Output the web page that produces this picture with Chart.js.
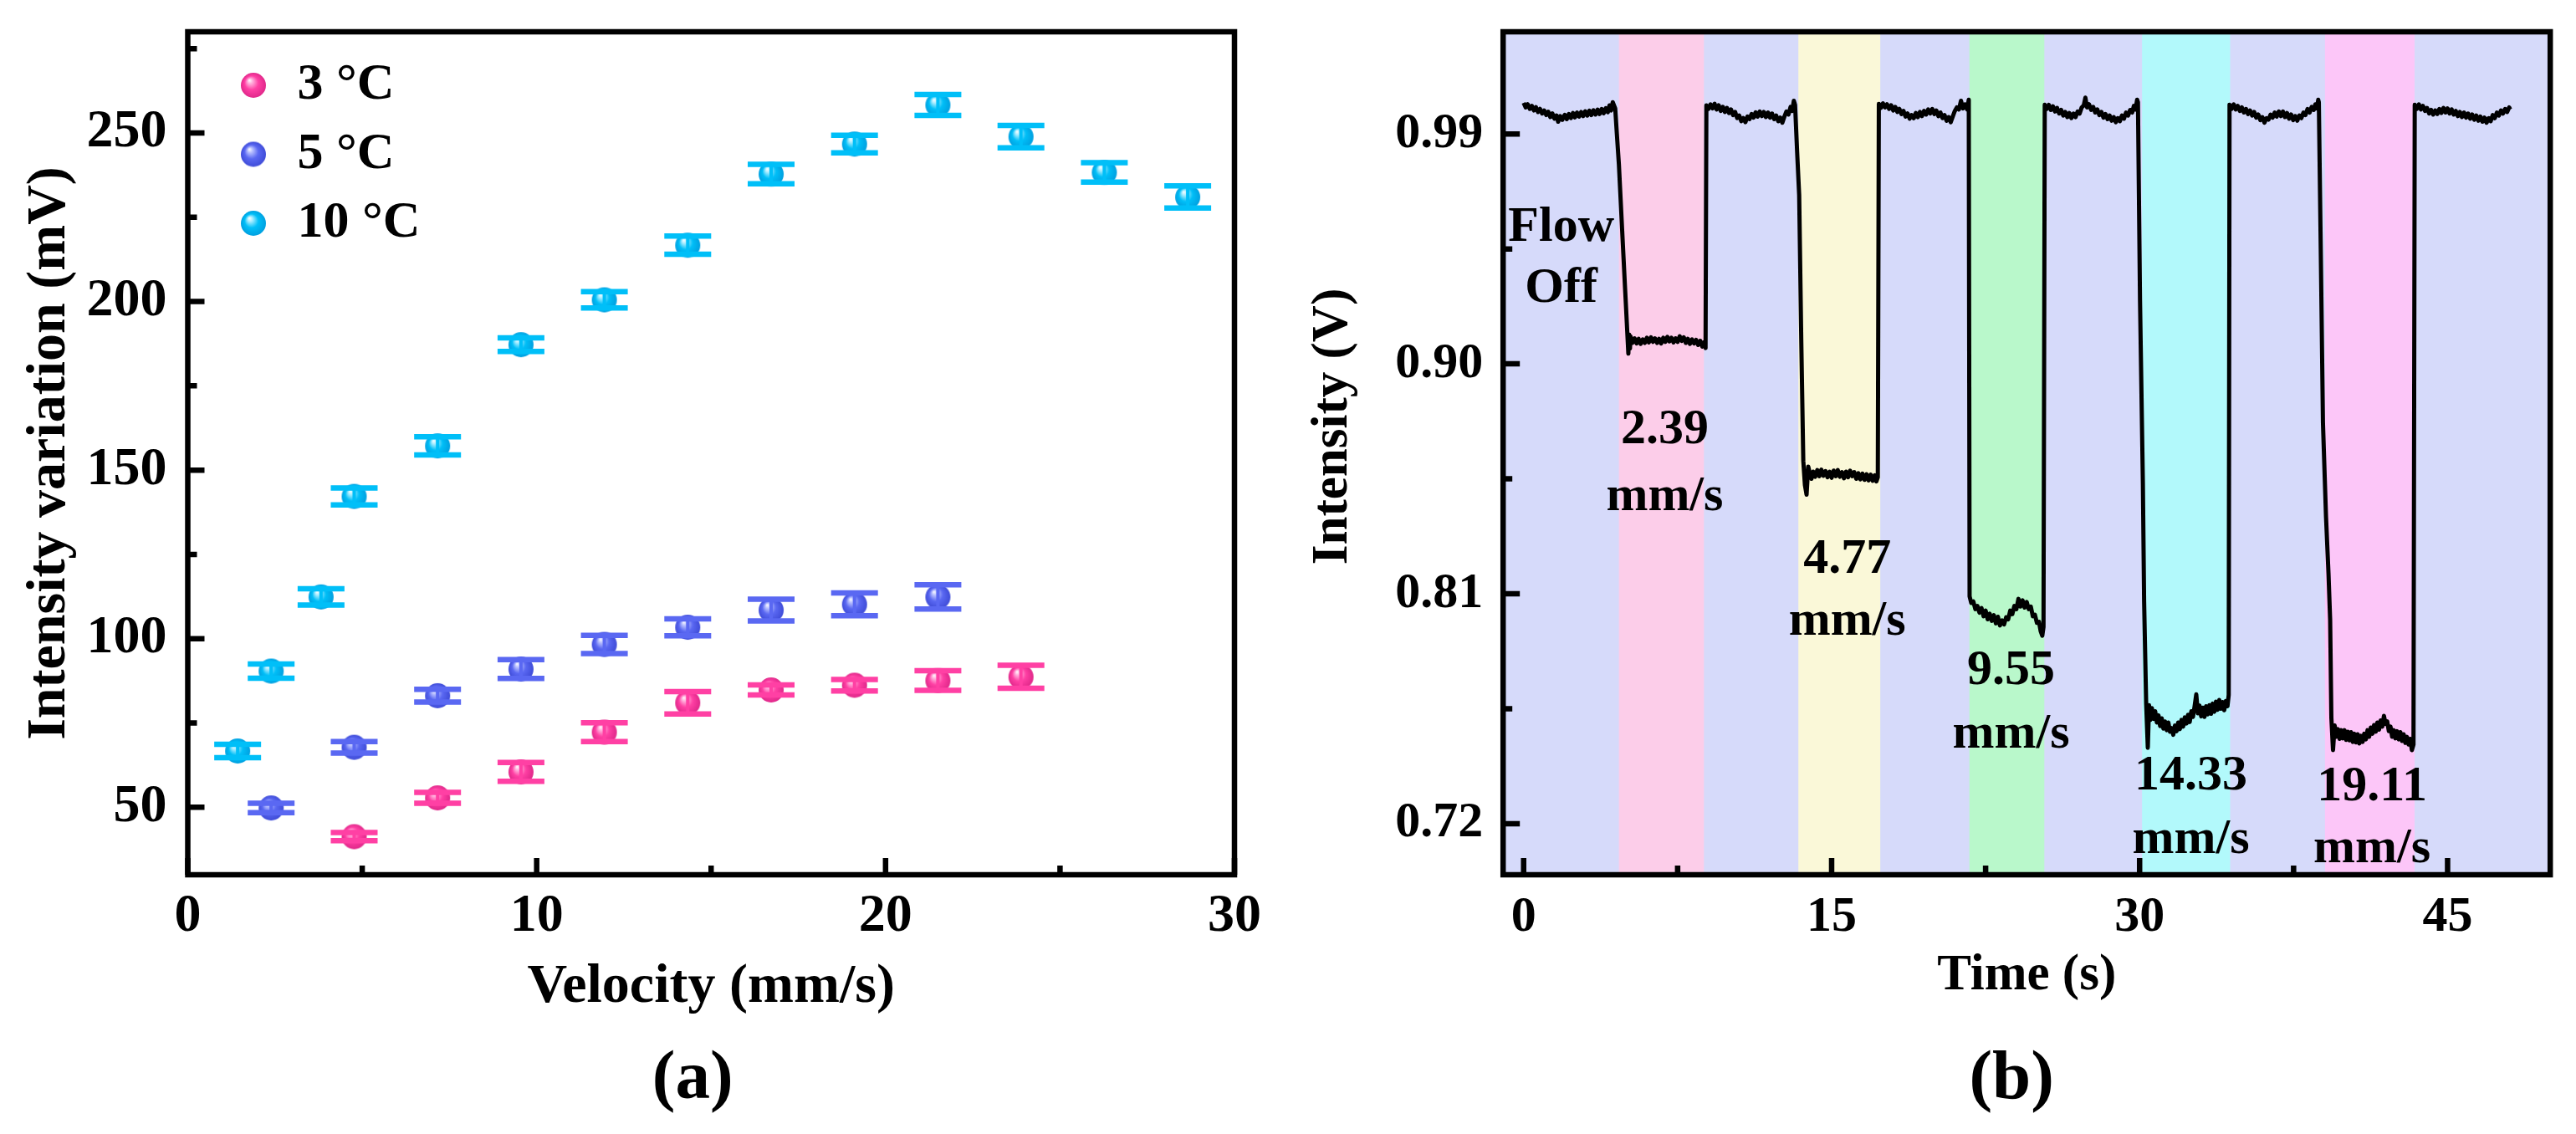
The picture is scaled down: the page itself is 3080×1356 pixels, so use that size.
<!DOCTYPE html>
<html>
<head>
<meta charset="utf-8">
<script src="https://cdn.jsdelivr.net/npm/chart.js"></script>
<style>
  html, body { margin: 0; padding: 0; background: #fff; }
  #wrap { position: relative; width: 3080px; height: 1356px; overflow: hidden; }
  .panel { position: absolute; top: 0; width: 1540px; height: 1356px; }
</style>
</head>
<body>
<div id="wrap">
  <div class="panel" style="left:0"><canvas id="velocityChart" width="1540" height="1356"></canvas></div>
  <div class="panel" style="left:1540px"><canvas id="timeChart" width="1540" height="1356"></canvas></div>
</div>
<script>
// ---- panel (a): intensity variation vs velocity ----
const velocity3 = [4.77, 7.16, 9.55, 11.94, 14.33, 16.72, 19.11, 21.50, 23.88];
const signal3 = [41.3, 52.8, 60.5, 72.3, 81.0, 84.8, 86.2, 87.6, 88.7];
const error3 = [1.2, 1.6, 2.8, 2.8, 3.3, 1.5, 1.7, 2.9, 3.4];

const velocity5 = [2.39, 4.77, 7.16, 9.55, 11.94, 14.33, 16.72, 19.11, 21.50];
const signal5 = [49.8, 67.8, 83.1, 91.0, 98.3, 103.4, 108.5, 110.2, 112.4];
const error5 = [1.4, 1.7, 1.9, 2.8, 2.7, 2.5, 3.2, 3.4, 3.6];

const velocity10 = [1.43, 2.39, 3.82, 4.77, 7.16, 9.55, 11.94, 14.33, 16.72, 19.11, 21.50, 23.88, 26.27, 28.66];
const signal10 = [66.7, 90.4, 112.4, 142.2, 157.2, 187.2, 200.5, 216.7, 237.8, 246.7, 258.3, 248.9, 238.3, 231.0];
const error10 = [2.0, 2.1, 2.4, 2.5, 2.7, 2.0, 2.4, 2.7, 2.9, 2.6, 3.1, 3.3, 2.9, 3.3];

const velocityTicks = [0, 10, 20, 30];
const velocityMinor = [5, 15, 25];
const signalTicks = [50, 100, 150, 200, 250];
const signalMinor = [75, 125, 175, 225, 275];

// ---- panel (b): intensity vs time ----
const timeTicks = [0, 15, 30, 45];
const timeMinor = [7.5, 22.5, 37.5];
const voltTicks = [0.72, 0.81, 0.90, 0.99];
const voltMinor = [0.765, 0.855, 0.945];

const flowStart = [4.64, 13.38, 21.71, 30.12, 39.03];
const flowEnd = [8.78, 17.37, 25.36, 34.41, 43.39];
const flowColors = ["#fccde9", "#faf8d8", "#b9f8cb", "#b2f9fb", "#fcc6f8"];

const flowNotes = [
  { lines: ["Flow", "Off"], t: 1.83, v: [0.9483, 0.9244] },
  { lines: ["2.39", "mm/s"], t: 6.87, v: [0.869, 0.8426] },
  { lines: ["4.77", "mm/s"], t: 15.76, v: [0.8183, 0.7938] },
  { lines: ["9.55", "mm/s"], t: 23.74, v: [0.7746, 0.7496] },
  { lines: ["14.33", "mm/s"], t: 32.5, v: [0.7334, 0.7084] },
  { lines: ["19.11", "mm/s"], t: 41.32, v: [0.729, 0.7048] },
];

// [time (s), intensity (V)]
const trace = [
  // flow off
  [0.00, 1.0022], [0.10, 1.0004], [0.20, 1.0016], [0.30, 0.9998], [0.40, 1.0010], [0.50, 0.9992],
  [0.60, 1.0005], [0.70, 0.9986], [0.80, 0.9998], [0.90, 0.9980], [1.00, 0.9992], [1.10, 0.9974],
  [1.20, 0.9987], [1.30, 0.9966], [1.40, 0.9980], [1.50, 0.9960], [1.60, 0.9972], [1.68, 0.9948],
  [1.78, 0.9970], [1.88, 0.9955], [2.00, 0.9975], [2.10, 0.9958], [2.20, 0.9978], [2.30, 0.9962],
  [2.40, 0.9982], [2.50, 0.9965], [2.60, 0.9984], [2.70, 0.9968], [2.80, 0.9986], [2.90, 0.9970],
  [3.00, 0.9989], [3.10, 0.9972], [3.20, 0.9991], [3.30, 0.9974], [3.40, 0.9993], [3.50, 0.9976],
  [3.60, 0.9995], [3.70, 0.9978], [3.80, 0.9998], [3.90, 0.9981], [4.00, 1.0001], [4.10, 0.9985],
  [4.18, 1.0012], [4.26, 0.9992], [4.34, 1.0024], [4.42, 1.0008],
  // 2.39 mm/s
  [4.46, 1.0000], [4.54, 0.9900], [4.64, 0.9780], [4.80, 0.9520], [4.95, 0.9280], [5.05, 0.9120],
  [5.10, 0.9040], [5.14, 0.9115], [5.18, 0.9060],
  [5.20, 0.9108], [5.30, 0.9082], [5.40, 0.9100], [5.50, 0.9080], [5.60, 0.9098], [5.70, 0.9078],
  [5.80, 0.9096], [5.90, 0.9082], [6.00, 0.9102], [6.10, 0.9084], [6.20, 0.9104], [6.30, 0.9086],
  [6.40, 0.9100], [6.50, 0.9082], [6.60, 0.9098], [6.70, 0.9080], [6.80, 0.9102], [6.90, 0.9086],
  [7.00, 0.9106], [7.10, 0.9088], [7.20, 0.9102], [7.30, 0.9084], [7.40, 0.9100], [7.50, 0.9086],
  [7.60, 0.9108], [7.70, 0.9090], [7.80, 0.9104], [7.90, 0.9082], [8.00, 0.9098], [8.10, 0.9078],
  [8.20, 0.9096], [8.30, 0.9080], [8.40, 0.9094], [8.50, 0.9074], [8.60, 0.9090], [8.70, 0.9068],
  [8.78, 0.9084], [8.86, 0.9062],
  // flow off
  [8.90, 1.0012], [9.00, 0.9998], [9.10, 1.0016], [9.20, 1.0000], [9.30, 1.0018], [9.40, 0.9996],
  [9.50, 1.0012], [9.60, 0.9990], [9.70, 1.0006], [9.80, 0.9986], [9.90, 1.0002], [10.00, 0.9982],
  [10.10, 0.9996], [10.20, 0.9974], [10.30, 0.9986], [10.40, 0.9962], [10.50, 0.9972], [10.60, 0.9950],
  [10.70, 0.9962], [10.80, 0.9946], [10.90, 0.9968], [11.00, 0.9958], [11.10, 0.9978], [11.20, 0.9964],
  [11.30, 0.9985], [11.40, 0.9968], [11.50, 0.9988], [11.60, 0.9970], [11.70, 0.9986], [11.80, 0.9966],
  [11.90, 0.9984], [12.00, 0.9964], [12.10, 0.9980], [12.20, 0.9958], [12.30, 0.9972], [12.40, 0.9950],
  [12.50, 0.9964], [12.60, 0.9944], [12.70, 0.9968], [12.80, 0.9988], [12.90, 0.9976], [13.00, 1.0006],
  [13.08, 0.9990], [13.16, 1.0030], [13.22, 1.0014],
  // 4.77 mm/s
  [13.32, 0.9830], [13.42, 0.9660], [13.52, 0.9100], [13.62, 0.8620], [13.70, 0.8525], [13.78, 0.8488],
  [13.86, 0.8598], [13.94, 0.8572],
  [14.02, 0.8550], [14.10, 0.8578], [14.20, 0.8558], [14.30, 0.8584], [14.40, 0.8560], [14.50, 0.8586],
  [14.60, 0.8562], [14.70, 0.8580], [14.80, 0.8556], [14.90, 0.8578], [15.00, 0.8554], [15.10, 0.8582],
  [15.20, 0.8560], [15.30, 0.8584], [15.40, 0.8558], [15.50, 0.8576], [15.60, 0.8552], [15.70, 0.8578],
  [15.80, 0.8556], [15.90, 0.8582], [16.00, 0.8560], [16.10, 0.8576], [16.20, 0.8550], [16.30, 0.8572],
  [16.40, 0.8548], [16.50, 0.8570], [16.60, 0.8546], [16.70, 0.8568], [16.80, 0.8544], [16.90, 0.8566],
  [17.00, 0.8542], [17.10, 0.8564], [17.18, 0.8540], [17.25, 0.8556],
  // flow off
  [17.30, 1.0018], [17.40, 1.0002], [17.50, 1.0020], [17.60, 1.0004], [17.70, 1.0016], [17.80, 0.9998],
  [17.90, 1.0012], [18.00, 0.9992], [18.10, 1.0006], [18.20, 0.9986], [18.30, 0.9998], [18.40, 0.9978],
  [18.50, 0.9990], [18.60, 0.9968], [18.70, 0.9980], [18.80, 0.9960], [18.90, 0.9974], [19.00, 0.9962],
  [19.10, 0.9982], [19.20, 0.9966], [19.30, 0.9986], [19.40, 0.9970], [19.50, 0.9990], [19.60, 0.9976],
  [19.70, 0.9996], [19.80, 0.9980], [19.90, 0.9998], [20.00, 0.9978], [20.10, 0.9992], [20.20, 0.9970],
  [20.30, 0.9984], [20.40, 0.9962], [20.50, 0.9974], [20.60, 0.9952], [20.70, 0.9966], [20.80, 0.9946],
  [20.90, 0.9968], [21.00, 0.9990], [21.10, 1.0004], [21.20, 0.9996], [21.30, 1.0030], [21.40, 1.0000],
  [21.50, 1.0016], [21.60, 0.9996], [21.68, 1.0034],
  // 9.55 mm/s
  [21.72, 0.8090], [21.80, 0.8064], [21.90, 0.8070], [22.00, 0.8040], [22.10, 0.8052], [22.20, 0.8026],
  [22.30, 0.8044], [22.40, 0.8012], [22.50, 0.8034], [22.60, 0.8000], [22.70, 0.8022], [22.80, 0.7994],
  [22.90, 0.8016], [23.00, 0.7984], [23.10, 0.8010], [23.20, 0.7976], [23.30, 0.7996], [23.40, 0.7980],
  [23.50, 0.8008], [23.60, 0.8000], [23.70, 0.8034], [23.80, 0.8020], [23.90, 0.8052], [24.00, 0.8040],
  [24.10, 0.8080], [24.20, 0.8050], [24.30, 0.8074], [24.40, 0.8046], [24.50, 0.8068], [24.60, 0.8040],
  [24.70, 0.8050], [24.80, 0.8012], [24.90, 0.8018], [25.00, 0.7986], [25.10, 0.7990], [25.18, 0.7954],
  [25.26, 0.7936], [25.32, 0.7970],
  // flow off
  [25.38, 1.0014], [25.48, 0.9998], [25.58, 1.0014], [25.68, 0.9994], [25.78, 1.0008], [25.88, 0.9988],
  [25.98, 1.0002], [26.08, 0.9980], [26.18, 0.9994], [26.28, 0.9972], [26.38, 0.9986], [26.48, 0.9966],
  [26.58, 0.9982], [26.68, 0.9962], [26.78, 0.9980], [26.88, 0.9966], [26.98, 0.9988], [27.08, 0.9980],
  [27.18, 1.0004], [27.28, 1.0012], [27.36, 1.0042], [27.44, 1.0004], [27.54, 1.0016], [27.64, 0.9994],
  [27.74, 1.0006], [27.84, 0.9984], [27.94, 0.9996], [28.04, 0.9974], [28.14, 0.9986], [28.24, 0.9964],
  [28.34, 0.9978], [28.44, 0.9958], [28.54, 0.9972], [28.64, 0.9952], [28.74, 0.9966], [28.84, 0.9946],
  [28.94, 0.9962], [29.04, 0.9950], [29.14, 0.9972], [29.24, 0.9960], [29.34, 0.9984], [29.44, 0.9972],
  [29.54, 0.9994], [29.64, 0.9984], [29.72, 1.0010], [29.80, 0.9996], [29.88, 1.0034],
  // 14.33 mm/s
  [29.92, 1.0024], [30.02, 0.9250], [30.16, 0.8530], [30.22, 0.8070], [30.32, 0.7670], [30.40, 0.7497],
  [30.46, 0.7664], [30.52, 0.7606], [30.60, 0.7652], [30.68, 0.7610], [30.76, 0.7640], [30.84, 0.7596],
  [30.92, 0.7624], [31.00, 0.7582], [31.08, 0.7612], [31.16, 0.7572], [31.24, 0.7600], [31.32, 0.7566],
  [31.40, 0.7596], [31.48, 0.7560], [31.56, 0.7574], [31.64, 0.7548], [31.72, 0.7584], [31.80, 0.7562],
  [31.88, 0.7596], [31.96, 0.7570], [32.04, 0.7606], [32.12, 0.7580], [32.20, 0.7616], [32.28, 0.7592],
  [32.36, 0.7626], [32.44, 0.7598], [32.52, 0.7640], [32.60, 0.7618], [32.68, 0.7660], [32.76, 0.7706],
  [32.84, 0.7632], [32.92, 0.7662], [33.00, 0.7620], [33.08, 0.7654], [33.16, 0.7618], [33.24, 0.7660],
  [33.32, 0.7628], [33.40, 0.7664], [33.48, 0.7630], [33.56, 0.7670], [33.64, 0.7638], [33.72, 0.7678],
  [33.80, 0.7646], [33.88, 0.7684], [33.96, 0.7650], [34.04, 0.7676], [34.12, 0.7644], [34.20, 0.7680],
  [34.28, 0.7660], [34.34, 0.7704],
  // flow off
  [34.38, 1.0014], [34.48, 0.9998], [34.58, 1.0016], [34.68, 0.9996], [34.78, 1.0010], [34.88, 0.9990],
  [34.98, 1.0004], [35.08, 0.9984], [35.18, 0.9998], [35.28, 0.9978], [35.38, 0.9992], [35.48, 0.9972],
  [35.58, 0.9986], [35.68, 0.9964], [35.78, 0.9976], [35.88, 0.9954], [35.98, 0.9966], [36.08, 0.9944],
  [36.18, 0.9962], [36.28, 0.9956], [36.38, 0.9976], [36.48, 0.9964], [36.58, 0.9984], [36.68, 0.9968],
  [36.78, 0.9988], [36.88, 0.9970], [36.98, 0.9988], [37.08, 0.9966], [37.18, 0.9982], [37.28, 0.9960],
  [37.38, 0.9976], [37.48, 0.9954], [37.58, 0.9970], [37.68, 0.9952], [37.78, 0.9972], [37.88, 0.9962],
  [37.98, 0.9984], [38.08, 0.9974], [38.18, 0.9998], [38.28, 0.9984], [38.38, 1.0006], [38.48, 0.9994],
  [38.56, 1.0016], [38.64, 1.0000], [38.70, 1.0034],
  // 19.11 mm/s
  [38.73, 1.0024], [38.83, 0.9405], [38.93, 0.8770], [39.08, 0.8400], [39.20, 0.8180], [39.28, 0.8000],
  [39.34, 0.7614], [39.42, 0.7488], [39.50, 0.7584], [39.58, 0.7540], [39.66, 0.7570], [39.74, 0.7532],
  [39.82, 0.7566], [39.90, 0.7534], [39.98, 0.7566], [40.06, 0.7528], [40.14, 0.7560], [40.22, 0.7526],
  [40.30, 0.7558], [40.38, 0.7520], [40.46, 0.7552], [40.54, 0.7518], [40.62, 0.7550], [40.70, 0.7514],
  [40.78, 0.7544], [40.86, 0.7520], [40.94, 0.7552], [41.02, 0.7530], [41.10, 0.7566], [41.18, 0.7540],
  [41.26, 0.7576], [41.34, 0.7552], [41.42, 0.7586], [41.50, 0.7560], [41.58, 0.7596], [41.66, 0.7568],
  [41.74, 0.7604], [41.82, 0.7580], [41.90, 0.7622], [41.98, 0.7590], [42.06, 0.7600], [42.14, 0.7562],
  [42.22, 0.7580], [42.30, 0.7540], [42.38, 0.7566], [42.46, 0.7534], [42.54, 0.7562], [42.62, 0.7530],
  [42.70, 0.7558], [42.78, 0.7524], [42.86, 0.7550], [42.94, 0.7516], [43.02, 0.7540], [43.10, 0.7510],
  [43.18, 0.7532], [43.26, 0.7488], [43.34, 0.7510],
  // flow off
  [43.40, 1.0014], [43.50, 0.9998], [43.60, 1.0016], [43.70, 0.9996], [43.80, 1.0010], [43.90, 0.9990],
  [44.00, 1.0002], [44.10, 0.9980], [44.20, 0.9994], [44.30, 0.9976], [44.40, 0.9992], [44.50, 0.9978],
  [44.60, 0.9998], [44.70, 0.9982], [44.80, 1.0002], [44.90, 0.9984], [45.00, 1.0000], [45.10, 0.9980],
  [45.20, 0.9996], [45.30, 0.9976], [45.40, 0.9990], [45.50, 0.9970], [45.60, 0.9986], [45.70, 0.9966],
  [45.80, 0.9984], [45.90, 0.9964], [46.00, 0.9980], [46.10, 0.9960], [46.20, 0.9976], [46.30, 0.9956],
  [46.40, 0.9972], [46.50, 0.9952], [46.60, 0.9968], [46.70, 0.9948], [46.80, 0.9964], [46.90, 0.9944],
  [47.00, 0.9962], [47.10, 0.9950], [47.20, 0.9974], [47.30, 0.9962], [47.40, 0.9984], [47.50, 0.9972],
  [47.60, 0.9992], [47.70, 0.9980], [47.80, 0.9998], [47.90, 0.9986], [48.00, 1.0004], [48.05, 0.9996],
];

const SERIF = "'Liberation Serif', 'Times New Roman', serif";
Chart.defaults.color = "#000";
Chart.defaults.font.family = SERIF;

// shaded ball marker, like the Origin "sphere" symbol
function makeSphere(light, base, dark, r) {
  const c = document.createElement("canvas");
  c.width = c.height = r * 2 + 2;
  const g = c.getContext("2d");
  const cx = r + 1;
  const grad = g.createRadialGradient(cx - r * 0.33, cx - r * 0.42, 0, cx, cx, r);
  grad.addColorStop(0, "#ffffff");
  grad.addColorStop(0.2, light);
  grad.addColorStop(0.55, base);
  grad.addColorStop(1, dark);
  g.fillStyle = grad;
  g.beginPath();
  g.arc(cx, cx, r, 0, Math.PI * 2);
  g.fill();
  return c;
}

const pink = "#ff40a4";
const blue = "#5a68f2";
const cyan = "#00bff8";
const ballPink = makeSphere("#ffb0dc", pink, "#e0288a", 15);
const ballBlue = makeSphere("#b8c0ff", blue, "#3f4cd8", 15);
const ballCyan = makeSphere("#a8ecff", cyan, "#00a0e0", 15);

function pairs(xs, ys) {
  return xs.map((x, i) => ({ x: x, y: ys[i] }));
}

function fixedTicks(list) {
  return (scale) => {
    scale.ticks = list.map((v) => ({ value: v }));
  };
}

// box frame with inward major/minor ticks on left and bottom
function framePlugin(xMajor, xMinor, yMajor, yMinor) {
  return {
    id: "frame",
    afterDraw(chart) {
      const { ctx, chartArea: a, scales } = chart;
      ctx.save();
      ctx.strokeStyle = "#000";
      ctx.lineWidth = 6.5;
      ctx.lineCap = "butt";
      ctx.beginPath();
      xMajor.forEach((v) => {
        const px = scales.x.getPixelForValue(v);
        ctx.moveTo(px, a.bottom);
        ctx.lineTo(px, a.bottom - 20);
      });
      xMinor.forEach((v) => {
        const px = scales.x.getPixelForValue(v);
        ctx.moveTo(px, a.bottom);
        ctx.lineTo(px, a.bottom - 11);
      });
      yMajor.forEach((v) => {
        const py = scales.y.getPixelForValue(v);
        ctx.moveTo(a.left, py);
        ctx.lineTo(a.left + 20, py);
      });
      yMinor.forEach((v) => {
        const py = scales.y.getPixelForValue(v);
        ctx.moveTo(a.left, py);
        ctx.lineTo(a.left + 11, py);
      });
      ctx.stroke();
      ctx.lineJoin = "miter";
      ctx.strokeRect(a.left, a.top, a.right - a.left, a.bottom - a.top);
      ctx.restore();
    },
  };
}

function panelLabel(text, shift) {
  return {
    id: "panelLabel",
    afterDraw(chart) {
      const { ctx, chartArea: a } = chart;
      ctx.save();
      ctx.font = "bold 83px " + SERIF;
      ctx.textAlign = "center";
      ctx.textBaseline = "alphabetic";
      ctx.fillStyle = "#000";
      ctx.fillText(text, (a.left + a.right) / 2 + shift, 1313);
      ctx.restore();
    },
  };
}

// rotated y title that sits a little above the axis middle
function sideTitle(text, size, x, y) {
  return {
    id: "sideTitle",
    afterDraw(chart) {
      const { ctx } = chart;
      ctx.save();
      ctx.translate(x, y);
      ctx.rotate(-Math.PI / 2);
      ctx.font = "bold " + size + "px " + SERIF;
      ctx.textAlign = "center";
      ctx.textBaseline = "middle";
      ctx.fillStyle = "#000";
      ctx.fillText(text, 0, 0);
      ctx.restore();
    },
  };
}

const errorBars = {
  id: "errorBars",
  afterDatasetsDraw(chart) {
    const { ctx, scales } = chart;
    ctx.save();
    chart.data.datasets.forEach((ds) => {
      ctx.strokeStyle = ds.barColor;
      ds.data.forEach((p, i) => {
        const e = ds.errors[i];
        const px = scales.x.getPixelForValue(p.x);
        const top = scales.y.getPixelForValue(p.y + e);
        const bot = scales.y.getPixelForValue(p.y - e);
        ctx.lineWidth = 4;
        ctx.beginPath();
        ctx.moveTo(px, top);
        ctx.lineTo(px, bot);
        ctx.stroke();
        ctx.lineWidth = 6.5;
        ctx.beginPath();
        ctx.moveTo(px - 28, top);
        ctx.lineTo(px + 28, top);
        ctx.moveTo(px - 28, bot);
        ctx.lineTo(px + 28, bot);
        ctx.stroke();
      });
    });
    ctx.restore();
  },
};

const sphereLegend = {
  id: "sphereLegend",
  afterDraw(chart) {
    const { ctx, chartArea: a } = chart;
    ctx.save();
    ctx.font = "bold 62px " + SERIF;
    ctx.textAlign = "left";
    ctx.textBaseline = "middle";
    ctx.fillStyle = "#000";
    chart.data.datasets.forEach((ds, i) => {
      const cy = a.top + 64 + i * 82.5;
      const img = ds.pointStyle;
      ctx.drawImage(img, a.left + 78.5 - img.width / 2, cy - img.height / 2);
      ctx.fillText(ds.label, a.left + 131, cy);
    });
    ctx.restore();
  },
};

const tickFontA = { family: SERIF, size: 64, weight: "bold" };
const titleFontA = { family: SERIF, size: 66, weight: "bold" };

new Chart(document.getElementById("velocityChart"), {
  type: "scatter",
  data: {
    datasets: [
      { label: "3 \u00B0C", data: pairs(velocity3, signal3), errors: error3, barColor: pink, pointStyle: ballPink, pointRadius: 15 },
      { label: "5 \u00B0C", data: pairs(velocity5, signal5), errors: error5, barColor: blue, pointStyle: ballBlue, pointRadius: 15 },
      { label: "10 \u00B0C", data: pairs(velocity10, signal10), errors: error10, barColor: cyan, pointStyle: ballCyan, pointRadius: 15 },
    ],
  },
  options: {
    responsive: false,
    animation: false,
    layout: { padding: { left: 0, top: 38, right: 64, bottom: 130 } },
    plugins: { legend: { display: false }, tooltip: { enabled: false } },
    scales: {
      x: {
        type: "linear",
        min: 0,
        max: 30,
        grid: { display: false, drawTicks: false },
        border: { display: false },
        afterBuildTicks: fixedTicks(velocityTicks),
        afterFit: (s) => { s.height = 180; s.paddingLeft = 0; s.paddingRight = 0; },
        ticks: { font: tickFontA, padding: 12, maxRotation: 0, autoSkip: false },
        title: { display: true, text: "Velocity (mm/s)", font: titleFontA, padding: { top: 0, bottom: 5 } },
      },
      y: {
        type: "linear",
        min: 30,
        max: 280,
        grid: { display: false, drawTicks: false },
        border: { display: false },
        afterBuildTicks: fixedTicks(signalTicks),
        afterFit: (s) => { s.width = 224.5; s.paddingTop = 0; s.paddingBottom = 0; },
        ticks: { font: tickFontA, padding: 25, autoSkip: false },
        title: { display: true, text: "Intensity variation (mV)", font: titleFontA, padding: { top: 20, bottom: 0 } },
      },
    },
  },
  plugins: [errorBars, sphereLegend, framePlugin(velocityTicks, velocityMinor, signalTicks, signalMinor), panelLabel("(a)", -22)],
});

// ---- panel (b) ----
const flowBands = {
  id: "flowBands",
  beforeDatasetsDraw(chart) {
    const { ctx, chartArea: a, scales } = chart;
    ctx.save();
    ctx.fillStyle = "#d6dafa";
    ctx.fillRect(a.left, a.top, a.right - a.left, a.bottom - a.top);
    flowStart.forEach((t0, i) => {
      const x0 = scales.x.getPixelForValue(t0);
      const x1 = scales.x.getPixelForValue(flowEnd[i]);
      ctx.fillStyle = flowColors[i];
      ctx.fillRect(x0, a.top, x1 - x0, a.bottom - a.top);
    });
    ctx.restore();
  },
};

const flowText = {
  id: "flowText",
  afterDatasetsDraw(chart) {
    const { ctx, scales } = chart;
    ctx.save();
    ctx.font = "bold 60px " + SERIF;
    ctx.textAlign = "center";
    ctx.textBaseline = "alphabetic";
    ctx.fillStyle = "#000";
    flowNotes.forEach((n) => {
      const px = scales.x.getPixelForValue(n.t);
      n.lines.forEach((line, j) => {
        ctx.fillText(line, px, scales.y.getPixelForValue(n.v[j]));
      });
    });
    ctx.restore();
  },
};

const tickFontB = { family: SERIF, size: 60, weight: "bold" };
const titleFontB = { family: SERIF, size: 61, weight: "bold" };

new Chart(document.getElementById("timeChart"), {
  type: "scatter",
  data: {
    datasets: [
      {
        label: "Intensity",
        data: trace.map(([t, v]) => ({ x: t, y: v })),
        showLine: true,
        borderColor: "#000",
        borderWidth: 5,
        borderJoinStyle: "round",
        pointRadius: 0,
        tension: 0,
      },
    ],
  },
  options: {
    responsive: false,
    animation: false,
    layout: { padding: { left: 0, top: 38, right: 30.8, bottom: 130 } },
    plugins: { legend: { display: false }, tooltip: { enabled: false } },
    scales: {
      x: {
        type: "linear",
        min: -1,
        max: 50,
        grid: { display: false, drawTicks: false },
        border: { display: false },
        afterBuildTicks: fixedTicks(timeTicks),
        afterFit: (s) => { s.height = 180; s.paddingLeft = 0; s.paddingRight = 0; },
        ticks: { font: tickFontB, padding: 15, maxRotation: 0, autoSkip: false },
        title: { display: true, text: "Time (s)", font: titleFontB, padding: { top: 0, bottom: 22 } },
      },
      y: {
        type: "linear",
        min: 0.70,
        max: 1.03,
        grid: { display: false, drawTicks: false },
        border: { display: false },
        afterBuildTicks: fixedTicks(voltTicks),
        afterFit: (s) => { s.width = 257.2; s.paddingTop = 0; s.paddingBottom = 0; },
        ticks: { font: tickFontB, padding: 24, autoSkip: false, callback: (v) => v.toFixed(2) },
        title: { display: false },
      },
    },
  },
  plugins: [flowBands, flowText, framePlugin(timeTicks, timeMinor, voltTicks, voltMinor),
    sideTitle("Intensity (V)", 61, 54, 510), panelLabel("(b)", -18)],
});
</script>
</body>
</html>
